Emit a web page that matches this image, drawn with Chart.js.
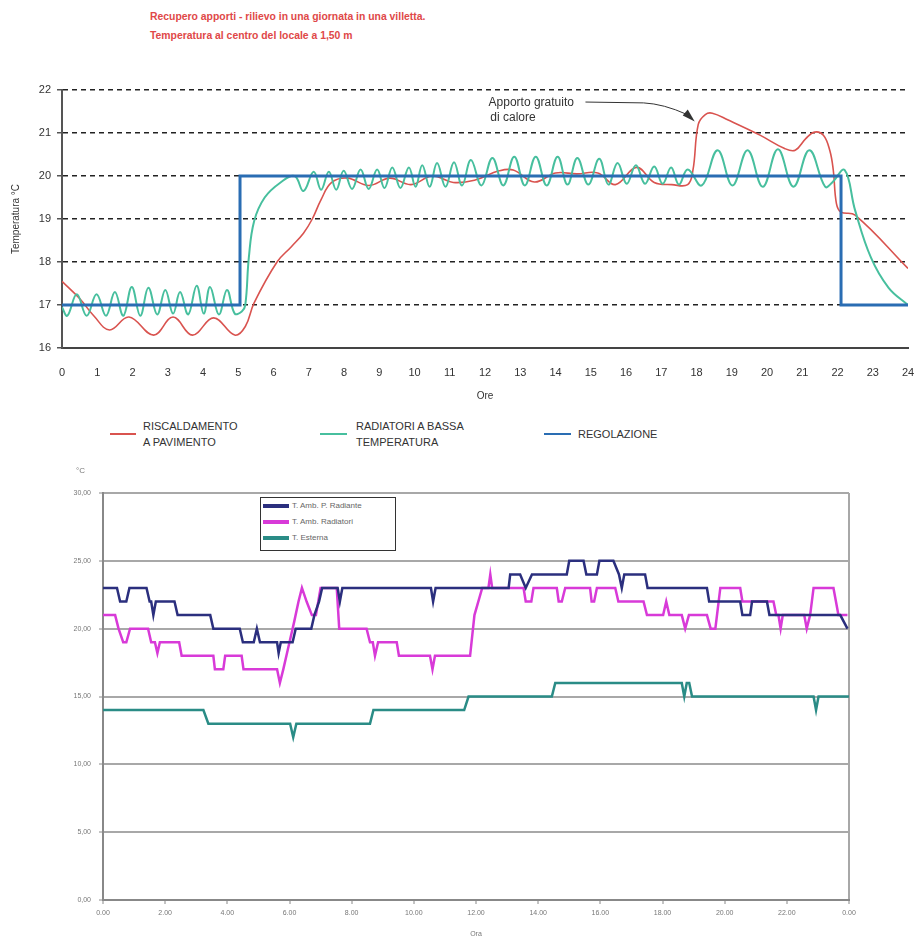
<!DOCTYPE html>
<html>
<head>
<meta charset="utf-8">
<script src="https://cdn.jsdelivr.net/npm/chart.js@4.4.1/dist/chart.umd.min.js"></script>
<style>
  body { margin: 0; background: #fff; font-family: "Liberation Sans", Arial, sans-serif; }
  #page { position: relative; width: 921px; height: 939px; overflow: hidden; }
  .abs { position: absolute; }
  #title { left: 150px; top: 7px; color: #e04848; font-weight: bold; font-size: 10.4px; line-height: 19px; }
  .leg { position: absolute; top: 418px; font-size: 11px; line-height: 16px; color: #333; }
  .sw { position: absolute; height: 2px; top: 433px; }
  #box2 { left: 260px; top: 497px; width: 134px; height: 52px; border: 1.5px solid #333; background: #fff; }
  .row2 { position: absolute; left: 2px; font-size: 8px; color: #666; }
  .row2 i { display: inline-block; width: 26px; height: 3.5px; vertical-align: middle; margin-right: 3px; }
</style>
</head>
<body>
<div id="page">
  <div id="title" class="abs">Recupero apporti - rilievo in una giornata in una villetta.<br>Temperatura al centro del locale a 1,50 m</div>

  <div class="abs" style="left:0;top:70px;"><canvas id="c1" width="921" height="340"></canvas></div>

  <div class="sw" style="left:110px;width:26px;background:#d9534f;"></div>
  <div class="leg" style="left:143px;">RISCALDAMENTO<br>A PAVIMENTO</div>
  <div class="sw" style="left:320px;width:27px;background:#47bf9e;"></div>
  <div class="leg" style="left:356px;">RADIATORI A BASSA<br>TEMPERATURA</div>
  <div class="sw" style="left:544px;width:27px;background:#2a6db3;"></div>
  <div class="leg" style="left:578px;top:426px;">REGOLAZIONE</div>

  <div class="abs" style="left:0;top:460px;"><canvas id="c2" width="921" height="479"></canvas></div>
  <div class="abs" style="left:76px;top:466px;font-size:8px;color:#777;">°C</div>
  <div id="box2" class="abs">
    <div class="row2" style="top:3px;"><i style="background:#2b2f7e"></i>T. Amb. P. Radiante</div>
    <div class="row2" style="top:19px;"><i style="background:#d83ad8"></i>T. Amb. Radiatori</div>
    <div class="row2" style="top:35px;"><i style="background:#2a8c86"></i>T. Esterna</div>
  </div>
</div>

<script>
// --- grafico 1: temperatura al centro del locale (ore 0-24) ---
const ORE = [0, 24];
const temp1Ticks = [16, 17, 18, 19, 20, 21, 22];

const pavimentoOre = [0, 0.5, 0.9, 1.35, 1.9, 2.6, 3.15, 3.7, 4.3, 4.9, 5.2, 5.45, 6.1, 6.5, 6.85, 7.1, 7.35, 7.65,
  8.1, 8.7, 9.3, 9.9, 10.5, 11.1, 11.7, 12.4, 12.8, 13.4, 14.0, 14.6, 15.2, 15.7, 16.3, 16.8, 17.3, 17.75,
  17.9, 18.05, 18.25, 18.45, 18.9, 19.8, 20.5, 20.8, 21.1, 21.35, 21.6, 21.78, 21.88, 21.97, 22.1, 22.5, 24];
const pavimentoTemp = [17.55, 17.15, 16.75, 16.42, 16.72, 16.3, 16.72, 16.3, 16.7, 16.3, 16.5, 17.05, 18.0, 18.35, 18.67, 19.0, 19.45, 19.85,
  19.95, 19.78, 19.95, 19.8, 20.0, 19.85, 19.9, 20.12, 20.14, 19.86, 20.07, 20.05, 20.07, 19.8, 20.2, 19.85, 19.8, 19.8,
  20.14, 21.2, 21.43, 21.46, 21.3, 20.95, 20.64, 20.6, 20.87, 21.02, 20.95, 20.6, 20.14, 19.36, 19.16, 19.09, 17.85];

const radiatoriOre = [0, 0.15, 0.42, 0.7, 0.98, 1.25, 1.5, 1.74, 1.98, 2.22, 2.45, 2.7, 2.93, 3.15, 3.35, 3.58, 3.82, 4.02, 4.2, 4.45, 4.68, 4.9, 5.1,
  5.2, 5.3, 5.45, 5.75, 6.2, 6.6,
  6.85, 7.14, 7.35, 7.57, 7.78, 7.99, 8.23, 8.47, 8.7, 8.94, 9.15, 9.37, 9.6, 9.84, 10.03, 10.22, 10.43, 10.64, 10.88, 11.12, 11.35, 11.6,
  11.9, 12.21, 12.52, 12.83, 13.13, 13.44, 13.75, 14.06, 14.34, 14.62, 14.93, 15.24, 15.5, 15.76, 16.02, 16.28, 16.54, 16.8, 17.04, 17.28, 17.5, 17.75,
  18.15, 18.6, 19.02, 19.45, 19.88, 20.31, 20.75, 21.2, 21.65, 21.85, 22.2, 22.5, 22.95, 23.45, 24];
const radiatoriTemp = [16.95, 16.75, 17.25, 16.75, 17.25, 16.75, 17.3, 16.75, 17.42, 16.75, 17.4, 16.78, 17.35, 16.8, 17.3, 16.78, 17.45, 16.8, 17.42, 16.78, 17.35, 16.8, 16.85,
  17.0, 18.1, 18.95, 19.5, 19.85, 20.0,
  19.65, 20.1, 19.68, 20.1, 19.68, 20.12, 19.7, 20.15, 19.7, 20.15, 19.72, 20.2, 19.72, 20.2, 19.75, 20.25, 19.75, 20.3, 19.75, 20.32, 19.78, 20.37,
  19.78, 20.42, 19.78, 20.45, 19.78, 20.45, 19.78, 20.45, 19.8, 20.42, 19.8, 20.4, 19.8, 20.3, 19.82, 20.25, 19.82, 20.22, 19.82, 20.2, 19.8, 20.15,
  19.78, 20.6, 19.78, 20.6, 19.75, 20.62, 19.75, 20.6, 19.75, 19.85, 20.14, 19.2, 18.1, 17.4, 17.0];

const regolazioneOre = [0, 5.05, 5.05, 22.1, 22.1, 24];
const regolazioneTemp = [17, 17, 20, 20, 17, 17];

// --- grafico 2: rilievo temperature ambiente / esterna ---
const temp2Ticks = [0, 5, 10, 15, 20, 25, 30];

const pRadianteOre = [0, 0.45, 0.55, 0.75, 0.85, 1.4, 1.5, 1.55, 1.62, 1.7, 2.3, 2.4, 3.45, 3.55, 4.4, 4.5, 4.85, 4.95, 5.05, 5.6, 5.65, 5.72,
  6.1, 6.2, 6.7, 6.8, 6.95, 7.05, 7.55, 7.62, 7.7, 10.55, 10.62, 10.7, 13.05, 13.1, 13.42, 13.6, 13.8, 14.92, 15.0, 15.46, 15.55, 15.89, 15.97,
  16.42, 16.6, 16.69, 16.77, 17.44, 17.52, 19.43, 19.5, 20.5, 20.57, 20.82, 20.88, 21.36, 21.44, 23.72, 23.95];
const pRadianteTemp = [23, 23, 22, 22, 23, 23, 22, 22, 21, 22, 22, 21, 21, 20, 20, 19, 19, 20, 19, 19, 18.2, 19,
  19, 20, 20, 21, 22, 23, 23, 22, 23, 23, 22, 23, 23, 24, 24, 23, 24, 24, 25, 25, 24, 24, 25,
  25, 24, 23, 24, 24, 23, 23, 22, 22, 21, 21, 22, 22, 21, 21, 20];

const radiatori2Ore = [0, 0.39, 0.5, 0.65, 0.75, 0.87, 1.45, 1.55, 1.67, 1.75, 1.83, 2.45, 2.53, 3.55, 3.6, 3.87, 3.93, 4.46, 4.52, 5.6, 5.69, 5.8,
  5.95, 6.15, 6.29, 6.4, 6.55, 6.72, 6.85, 7.0, 7.52, 7.6, 8.48, 8.59, 8.68, 8.75, 8.85, 9.45, 9.52, 10.52, 10.6, 10.68, 11.81,
  11.95, 12.2, 12.4, 12.46, 12.52, 13.53, 13.6, 13.78, 13.85, 14.6, 14.66, 14.76, 14.87, 15.67, 15.72, 15.8, 15.89, 16.48, 16.58, 17.39, 17.5,
  18.02, 18.12, 18.22, 18.62, 18.73, 18.85, 19.43, 19.55, 19.7, 19.86, 20.5, 20.57, 21.57, 21.66, 21.73, 21.8, 21.87, 22.56, 22.64, 22.75, 22.86,
  23.5, 23.66, 23.95];
const radiatori2Temp = [21, 21, 20, 19, 19, 20, 20, 19, 19, 18.2, 19, 19, 18, 18, 17, 17, 18, 18, 17, 17, 16, 17,
  18.5, 20.5, 22, 23, 22, 21, 21, 23, 23, 20, 20, 19, 19, 18, 19, 19, 18, 18, 17, 18, 18,
  21, 23, 23, 24, 23, 23, 22, 22, 23, 23, 22, 22, 23, 23, 22, 22, 23, 23, 22, 22, 21,
  21, 22, 21, 21, 20, 21, 21, 20, 20, 23, 23, 22, 22, 21, 21, 20, 21, 21, 20, 21, 23,
  23, 21, 21];

const esternaOre = [0, 3.23, 3.39, 6.02, 6.12, 6.22, 8.59, 8.7, 11.62, 11.76, 14.44, 14.55, 18.62, 18.7, 18.78, 18.86, 18.95, 22.86, 22.94, 23.02, 24];
const esternaTemp = [14, 14, 13, 13, 12, 13, 13, 14, 14, 15, 15, 16, 16, 15, 16, 16, 15, 15, 14, 15, 15];

const pts = (xs, ys) => xs.map((x, i) => ({ x, y: ys[i] }));
const comma = (v) => v.toFixed(2).replace('.', ',');

// annotation "Apporto gratuito di calore" with arrow, placed in data units
const apportoNote = {
  id: 'apportoNote',
  afterDatasetsDraw(chart) {
    const { ctx, scales: { x, y } } = chart;
    ctx.save();
    ctx.fillStyle = '#333';
    ctx.font = '12px "Liberation Sans", Arial, sans-serif';
    ctx.textBaseline = 'middle';
    ctx.fillText('Apporto gratuito', x.getPixelForValue(12.1), y.getPixelForValue(21.7));
    ctx.fillText('di calore', x.getPixelForValue(12.15), y.getPixelForValue(21.35));
    const x0 = x.getPixelForValue(14.85), y0 = y.getPixelForValue(21.72);
    const x1 = x.getPixelForValue(16.5), y1 = y.getPixelForValue(21.7);
    const tx = x.getPixelForValue(17.95), ty = y.getPixelForValue(21.27);
    ctx.strokeStyle = '#333';
    ctx.lineWidth = 1;
    ctx.beginPath();
    ctx.moveTo(x0, y0);
    ctx.lineTo(x1, y1);
    ctx.quadraticCurveTo(x1 + 20, y1 + 1, tx - 8, ty - 7);
    ctx.stroke();
    ctx.beginPath();
    ctx.moveTo(tx, ty);
    ctx.lineTo(tx - 12, ty - 6);
    ctx.lineTo(tx - 7, ty - 12);
    ctx.closePath();
    ctx.fill();
    ctx.restore();
  }
};

new Chart(document.getElementById('c1'), {
  type: 'line',
  data: {
    datasets: [{
      label: 'RISCALDAMENTO A PAVIMENTO',
      data: pts(pavimentoOre, pavimentoTemp),
      borderColor: '#d9534f',
      borderWidth: 1.6,
      tension: 0.4,
      pointRadius: 0,
      order: 2
    }, {
      label: 'RADIATORI A BASSA TEMPERATURA',
      data: pts(radiatoriOre, radiatoriTemp),
      borderColor: '#47bf9e',
      borderWidth: 2,
      tension: 0.4,
      pointRadius: 0,
      order: 1
    }, {
      label: 'REGOLAZIONE',
      data: pts(regolazioneOre, regolazioneTemp),
      borderColor: '#2a6db3',
      borderWidth: 3,
      tension: 0,
      pointRadius: 0,
      order: 0
    }]
  },
  options: {
    responsive: false,
    animation: false,
    layout: { padding: { top: 20, right: 13, left: 0, bottom: 0 } },
    plugins: { legend: { display: false }, tooltip: { enabled: false } },
    scales: {
      x: {
        type: 'linear',
        min: ORE[0],
        max: ORE[1],
        afterFit: (s) => { s.height = 62; s.paddingLeft = 0; s.paddingRight = 0; },
        ticks: { stepSize: 1, color: '#333', font: { size: 11 }, padding: 18, maxRotation: 0, autoSkip: false },
        grid: { display: false, drawTicks: false },
        border: { color: '#444', width: 2 },
        title: { display: true, text: 'Ore', color: '#333', font: { size: 10 }, padding: { top: 0, bottom: 8 } }
      },
      y: {
        min: temp1Ticks[0],
        max: temp1Ticks[temp1Ticks.length - 1],
        afterFit: (s) => { s.width = 62; },
        afterBuildTicks: (s) => { s.ticks = temp1Ticks.map((v) => ({ value: v })); },
        ticks: { color: '#333', font: { size: 11 }, padding: 6 },
        grid: { color: '#222', lineWidth: 1.5, tickLength: 5, tickColor: '#555', tickWidth: 1.5 },
        border: { color: '#555', width: 2, dash: [5, 4] },
        title: { display: true, text: 'Temperatura °C', color: '#333', font: { size: 10 }, padding: { top: 10, bottom: 0 } }
      }
    }
  },
  plugins: [apportoNote]
});

new Chart(document.getElementById('c2'), {
  type: 'line',
  data: {
    datasets: [{
      label: 'T. Amb. P. Radiante',
      data: pts(pRadianteOre, pRadianteTemp),
      borderColor: '#2b2f7e',
      borderWidth: 2.5,
      tension: 0,
      pointRadius: 0
    }, {
      label: 'T. Amb. Radiatori',
      data: pts(radiatori2Ore, radiatori2Temp),
      borderColor: '#d83ad8',
      borderWidth: 2.5,
      tension: 0,
      pointRadius: 0
    }, {
      label: 'T. Esterna',
      data: pts(esternaOre, esternaTemp),
      borderColor: '#2a8c86',
      borderWidth: 2.5,
      tension: 0,
      pointRadius: 0
    }]
  },
  options: {
    responsive: false,
    animation: false,
    layout: { padding: { top: 33, right: 72, left: 0, bottom: 0 } },
    plugins: { legend: { display: false }, tooltip: { enabled: false } },
    scales: {
      x: {
        type: 'linear',
        min: 0,
        max: 24,
        afterFit: (s) => { s.height = 39; s.paddingLeft = 0; s.paddingRight = 0; },
        ticks: {
          stepSize: 2, color: '#777', font: { size: 7 }, padding: 5, maxRotation: 0, autoSkip: false,
          callback: (v) => `${v % 24}.00`
        },
        grid: {
          color: (c) => (c.tick && c.tick.value === 24 ? '#a8a8a8' : 'rgba(0,0,0,0)'),
          lineWidth: 2, tickLength: 4, tickColor: '#888', tickWidth: 1
        },
        border: { color: '#888', width: 2 },
        title: { display: true, text: 'Ora', color: '#777', font: { size: 7 }, padding: { top: 0, bottom: 1 } }
      },
      y: {
        min: temp2Ticks[0],
        max: temp2Ticks[temp2Ticks.length - 1],
        afterFit: (s) => { s.width = 103; },
        afterBuildTicks: (s) => { s.ticks = temp2Ticks.map((v) => ({ value: v })); },
        ticks: { color: '#777', font: { size: 7 }, padding: 8, callback: comma },
        grid: { color: '#a8a8a8', lineWidth: 2, tickLength: 4, tickColor: '#888', tickWidth: 1 },
        border: { color: '#888', width: 2 }
      }
    }
  }
});
</script>
</body>
</html>
